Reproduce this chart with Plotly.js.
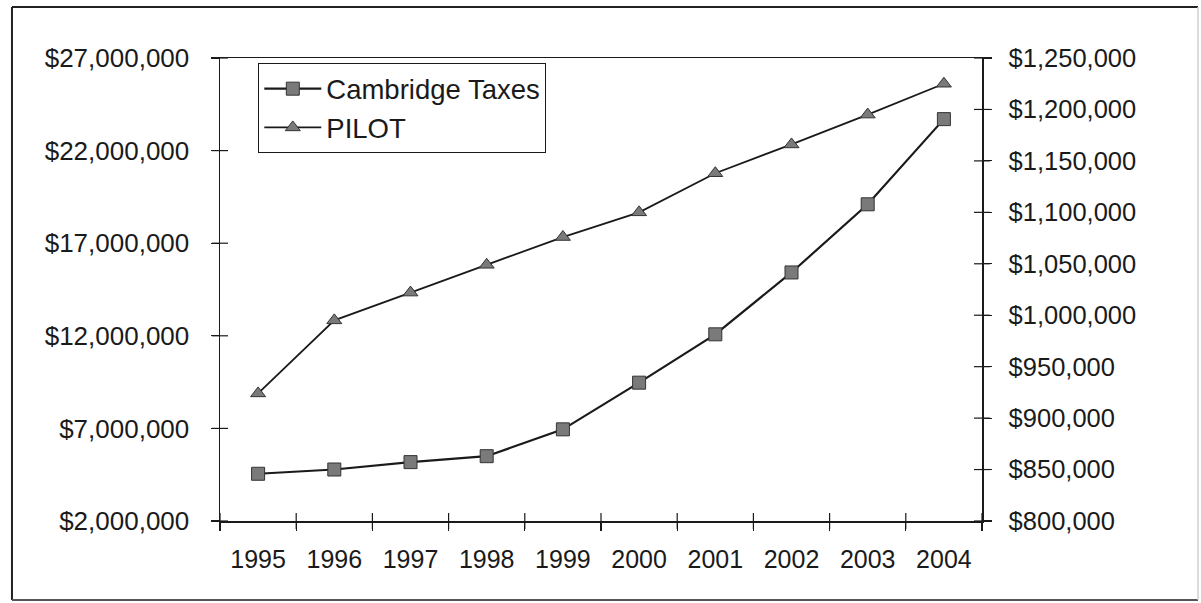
<!DOCTYPE html>
<html>
<head>
<meta charset="utf-8">
<script src="https://cdn.plot.ly/plotly-3.0.1.min.js"></script>
<style>
html,body{margin:0;padding:0;background:#fff;}
#chart{width:1201px;height:603px;}
</style>
</head>
<body>
<div id="chart"></div>
<script>
const years = ['1995','1996','1997','1998','1999','2000','2001','2002','2003','2004'];
const cambridgeTaxes = [4550000, 4780000, 5180000, 5500000, 6950000, 9470000, 12080000, 15420000, 19100000, 23700000];
const pilot = [924000, 995000, 1022000, 1049000, 1076000, 1100000, 1138000, 1166000, 1195000, 1225000];
const leftTicks = [2000000, 7000000, 12000000, 17000000, 22000000, 27000000];
const rightTicks = [800000, 850000, 900000, 950000, 1000000, 1050000, 1100000, 1150000, 1200000, 1250000];

const fontFam = '"Liberation Sans", Arial, sans-serif';
const ink = '#1a1a1a';

const traces = [
  {
    x: years, y: cambridgeTaxes, name: 'Cambridge Taxes', type: 'scatter', mode: 'lines+markers',
    xaxis: 'x', yaxis: 'y',
    line: {color: ink, width: 2.2},
    marker: {symbol: 'square', size: 13, color: '#7a7a7a', line: {color: '#333', width: 1}}
  },
  {
    x: years, y: pilot, name: 'PILOT', type: 'scatter', mode: 'lines+markers',
    xaxis: 'x', yaxis: 'y2',
    line: {color: ink, width: 1.8},
    marker: {symbol: 'triangle-up', size: 13, color: '#7a7a7a', line: {color: '#333', width: 1}}
  }
];

const fmt = v => '$' + v.toLocaleString('en-US');

// crossing tick marks ("+" style, as in the original spreadsheet chart), placed through the axes' own scales
const TX = 8 / 762, TY = 8 / 463;
const tickStyle = {color: ink, width: 1.2};
const crossTicks = [].concat(
  leftTicks.map(v => ({type: 'line', xref: 'paper', yref: 'y', x0: -TX, x1: TX, y0: v, y1: v, line: tickStyle})),
  rightTicks.map(v => ({type: 'line', xref: 'paper', yref: 'y2', x0: 1 - TX, x1: 1 + TX, y0: v, y1: v, line: tickStyle})),
  years.concat(['']).map((_, i) => ({type: 'line', xref: 'x', yref: 'paper', x0: i - 0.5, x1: i - 0.5, y0: -TY, y1: TY, line: tickStyle}))
);

const frame = [
  {type: 'line', xref: 'paper', yref: 'paper', x0: -0.2730, x1: -0.2730, y0: -0.1706, y1: 1.110, line: {color: '#222', width: 2}},
  {type: 'line', xref: 'paper', yref: 'paper', x0: -0.2730, x1: 1.2835, y0: 1.110, y1: 1.110, line: {color: '#222', width: 2}},
  {type: 'line', xref: 'paper', yref: 'paper', x0: -0.2730, x1: 1.2835, y0: -0.1706, y1: -0.1706, line: {color: '#555', width: 2}},
  {type: 'line', xref: 'paper', yref: 'paper', x0: 1.2835, x1: 1.2835, y0: -0.1706, y1: 1.110, line: {color: '#cfcfcf', width: 1.5}}
];

const layout = {
  width: 1201, height: 603,
  margin: {l: 220, r: 219, t: 58, b: 82, pad: 0},
  paper_bgcolor: '#ffffff', plot_bgcolor: '#ffffff',
  font: {family: fontFam, size: 25, color: ink},
  showlegend: true,
  legend: {
    x: 0.05, y: 0.989, xanchor: 'left', yanchor: 'top',
    bgcolor: '#ffffff', bordercolor: ink, borderwidth: 1.2,
    font: {family: fontFam, size: 27.5, color: ink},
    itemwidth: 57,
    tracegroupgap: 0
  },
  xaxis: {
    type: 'category', range: [-0.5, 9.5], tickson: 'boundaries',
    showline: true, linecolor: ink, linewidth: 1.5, mirror: true,
    ticks: 'outside', ticklen: 8, tickwidth: 1.2, tickcolor: ink,
    ticklabelstandoff: 15,
    showgrid: false, zeroline: false,
    tickfont: {family: fontFam, size: 25, color: ink}
  },
  yaxis: {
    range: [2000000, 27000000], tickmode: 'array', tickvals: leftTicks, ticktext: leftTicks.map(fmt),
    showline: true, linecolor: ink, linewidth: 1.5,
    ticks: 'outside', ticklen: 8, tickwidth: 1.2, tickcolor: ink,
    ticklabelstandoff: 16,
    showgrid: false, zeroline: false,
    tickfont: {family: fontFam, size: 26, color: ink}
  },
  yaxis2: {
    overlaying: 'y', side: 'right', anchor: 'x',
    range: [800000, 1250000], tickmode: 'array', tickvals: rightTicks, ticktext: rightTicks.map(fmt),
    showline: true, linecolor: ink, linewidth: 1.5,
    ticks: 'outside', ticklen: 8, tickwidth: 1.2, tickcolor: ink,
    ticklabelstandoff: 12,
    showgrid: false, zeroline: false,
    tickfont: {family: fontFam, size: 25.5, color: ink}
  },
  shapes: frame.concat(crossTicks)
};

Plotly.newPlot('chart', traces, layout, {displayModeBar: false, staticPlot: true});
</script>
</body>
</html>
